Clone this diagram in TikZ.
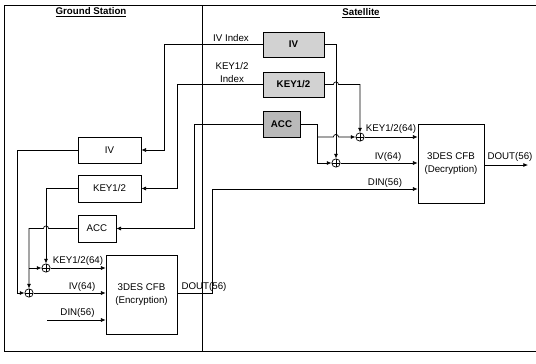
\documentclass[tikz,border=0pt]{standalone}
\usepackage{fontspec}
\setmainfont{Liberation Sans}
\usetikzlibrary{arrows.meta, positioning, calc}
\tikzset{
    box/.style={rectangle, draw, line width=0.6pt, align=center, font=\fontsize{8.3}{11}\selectfont},
    satbox/.style={box, fill=gray!35, font=\fontsize{8.3}{11}\selectfont\bfseries},
    xor/.style={circle, draw, line width=0.6pt, inner sep=0pt, minimum size=0.25cm,
        path picture={\draw[line width=0.5pt] (path picture bounding box.north) -- (path picture bounding box.south)
            (path picture bounding box.west) -- (path picture bounding box.east);}},
    arrow/.style={line width=0.6pt,->,>={Latex[length=4pt,width=3.5pt]}},
    wire/.style={line width=0.6pt},
    lbl/.style={font=\fontsize{8.3}{11}\selectfont, inner sep=0pt, align=center}
}

\begin{document}
\begin{tikzpicture}[x=0.03cm, y=-0.03cm]
    \useasboundingbox (0,0) rectangle (536,363);
    % frame
    \draw[wire] (536,5) -- (4,5) -- (4,351) -- (536,351);
    \draw[wire] (202,5) -- (202,351);
    \node[lbl] (gstitle) at (91,12) {\bfseries\underline{Ground Station}};
    \node[lbl] (sattitle) at (361,13) {\bfseries\underline{Satellite}};

    % ground station
    \node (gsiv) [box, minimum width=1.89cm, minimum height=0.78cm] at (109.5,150) {IV};
    \node (gskey) [box, minimum width=1.89cm, minimum height=0.81cm] at (109.5,188.5) {KEY1/2};
    \node (gsacc) [box, minimum width=1.14cm, minimum height=0.81cm] at (97,228.5) {ACC};
    \node (enc) [box, minimum width=2.13cm, minimum height=2.37cm] at (141.5,294.5) {3DES CFB\\(Encryption)};
    \node (gsxorkey) [xor] at (46,268) {};
    \node (gsxoriv) [xor] at (29,293) {};

    % satellite
    \node (sativ) [satbox, minimum width=1.83cm, minimum height=0.75cm] at (293.5,44.5) {IV};
    \node (satkey) [satbox, minimum width=1.83cm, minimum height=0.75cm] at (293.5,84.5) {KEY1/2};
    \node (satacc) [satbox, fill=gray!55, minimum width=1.11cm, minimum height=0.78cm] at (281.5,124) {ACC};
    \node (dec) [box, minimum width=1.98cm, minimum height=2.37cm] at (451,163.5) {3DES CFB\\(Decryption)};
    \node (satxorkey) [xor] at (360,137) {};
    \node (satxoriv) [xor] at (336,163) {};

    % index links
    \draw [arrow] (sativ.west) -- (164,44.5) |- (gsiv.east);
    \node[lbl] (ivindex) at (231,38) {IV Index};
    \draw [arrow] (satkey.west) -- (177,84.5) |- (gskey.east);
    \node[lbl] (keyindex) at (232,72.5) {KEY1/2\\Index};
    \draw [arrow] (satacc.west) -- (194,124) |- (gsacc.east);

    % ground station xor
    \draw [arrow] (gsiv.west) -- (17,150) |- (gsxoriv.west);
    \draw [arrow] (gskey.west) -| (gsxorkey.north);
    \draw [arrow] (gsacc.west) -- (48.6,228.5) arc[start angle=0, end angle=180, radius=2.2pt] -- (29,228.5) -- (gsxoriv.north);
    \draw [arrow] (29,268) -- (gsxorkey.west);
    \draw [arrow] (gsxorkey.east) -- (gsxorkey.east -| enc.west);
    \node[lbl] at (78,261) {KEY1/2(64)};
    \draw [arrow] (gsxoriv.east) -- (gsxoriv.east -| enc.west);
    \node[lbl] at (82,287) {IV(64)};
    \draw [arrow] (47,320) -- (enc.west |- 0,320);
    \node[lbl] at (77.5,313) {DIN(56)};

    % link
    \draw [arrow] (enc.east |- gsxoriv) -- (212,293) |- (dec.west |- 0,189);
    \node[lbl] at (204,287) {DOUT(56)};
    \node[lbl] at (385,183) {DIN(56)};

    % satellite xor
    \draw [arrow] (sativ.east) -- (336,44.5) -- (satxoriv.north);
    \draw [arrow] (satkey.east) -- (333.4,84.5) arc[start angle=180, end angle=0, radius=2.2pt] -- (360,84.5) -- (satxorkey.north);
    \draw [arrow] (satacc.east) -- (317,124) |- (satxoriv.west);
    \draw [arrow] (317,137) -- (333.4,137) arc[start angle=180, end angle=0, radius=2.2pt] -- (satxorkey.west);
    \draw [arrow] (satxorkey.east) -- (satxorkey.east -| dec.west);
    \node[lbl] at (391,129) {KEY1/2(64)};
    \draw [arrow] (satxoriv.east) -- (satxoriv.east -| dec.west);
    \node[lbl] at (388,157) {IV(64)};
    \draw [arrow] (dec.east |- 0,165) -- (528,165);
    \node[lbl] at (510,157) {DOUT(56)};
\end{tikzpicture}
\end{document}
